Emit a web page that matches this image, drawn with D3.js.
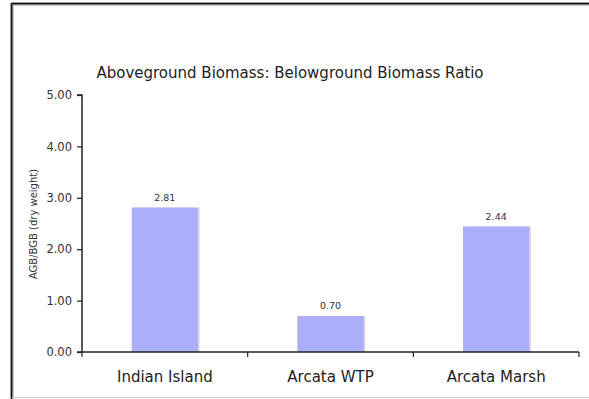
<!DOCTYPE html>
<html>
<head>
<meta charset="utf-8">
<script src="https://cdn.jsdelivr.net/npm/d3@7"></script>
<style>
  html, body { margin: 0; padding: 0; background: #fff; }
  svg { display: block; }
  text { font-family: "DejaVu Sans", Verdana, sans-serif; }
</style>
</head>
<body>
<svg id="chart" width="589" height="399"></svg>
<script>
// Biomass ratio per site
const sites = ["Indian Island", "Arcata WTP", "Arcata Marsh"];
const ratios = [2.81, 0.70, 2.44];
const yTicks = [0, 1, 2, 3, 4, 5];

const svg = d3.select("#chart");
const W = 589, H = 399;
const plot = { left: 82, right: 579, top: 95, bottom: 352 };

// Frame around the chart area
svg.append("line").attr("x1", 12).attr("x2", W).attr("y1", 4).attr("y2", 4)
  .attr("stroke", "#999").attr("stroke-width", 3);
svg.append("line").attr("x1", 12).attr("x2", 12).attr("y1", 4).attr("y2", H)
  .attr("stroke", "#999").attr("stroke-width", 3);
svg.append("line").attr("x1", 11).attr("x2", W).attr("y1", 3.5).attr("y2", 3.5)
  .attr("stroke", "#111").attr("stroke-width", 1.5);
svg.append("line").attr("x1", 11.5).attr("x2", 11.5).attr("y1", 3).attr("y2", H)
  .attr("stroke", "#111").attr("stroke-width", 1.5);
svg.append("line").attr("x1", 12).attr("x2", W).attr("y1", 397.5).attr("y2", 397.5)
  .attr("stroke", "#ccc").attr("stroke-width", 1);

const x = d3.scaleBand().domain(sites).range([plot.left, plot.right])
  .paddingInner(0.6).paddingOuter(0.3);
const y = d3.scaleLinear().domain([0, 5]).range([plot.bottom, plot.top]);

// Title
svg.append("text")
  .attr("x", 290).attr("y", 78)
  .attr("text-anchor", "middle")
  .attr("font-size", 15)
  .attr("fill", "#222")
  .text("Aboveground Biomass: Belowground Biomass Ratio");

// Bars with a faint shadow on the right edge
const bars = svg.append("g");
sites.forEach((s, i) => {
  bars.append("rect")
    .attr("x", x(s) + 1.5).attr("y", y(ratios[i]))
    .attr("width", x.bandwidth()).attr("height", y(0) - y(ratios[i]))
    .attr("fill", "#d4d4dc");
  bars.append("rect")
    .attr("x", x(s)).attr("y", y(ratios[i]))
    .attr("width", x.bandwidth()).attr("height", y(0) - y(ratios[i]))
    .attr("fill", "#abaef8");
  bars.append("text")
    .attr("x", x(s) + x.bandwidth() / 2).attr("y", y(ratios[i]) - 7)
    .attr("text-anchor", "middle")
    .attr("font-size", 9.5)
    .attr("fill", "#333")
    .text(ratios[i].toFixed(2));
});

// Y axis
const yAxis = svg.append("g")
  .attr("transform", `translate(${plot.left},0)`)
  .call(d3.axisLeft(y).tickValues(yTicks).tickFormat(d3.format(".2f")).tickSize(5).tickPadding(5));
yAxis.select(".domain").attr("stroke", "#222").attr("stroke-width", 1.5).attr("d", `M-5,${plot.top}H0V${plot.bottom}`);
yAxis.selectAll(".tick line").attr("stroke", "#222").attr("stroke-width", 1.2);
yAxis.selectAll(".tick text").attr("font-size", 11.5).attr("fill", "#333")
  .attr("font-family", "DejaVu Sans, Verdana, sans-serif");

// X axis with boundary ticks between categories
const xAxis = svg.append("g").attr("transform", `translate(0,${plot.bottom})`);
xAxis.append("line")
  .attr("x1", plot.left - 5).attr("x2", plot.right).attr("y1", 0).attr("y2", 0)
  .attr("stroke", "#222").attr("stroke-width", 1.5);
const step = x.step();
const bounds = sites.map((s, i) => plot.left + step * (i + 1));
bounds.forEach(b => {
  xAxis.append("line").attr("x1", b).attr("x2", b).attr("y1", 0).attr("y2", 5)
    .attr("stroke", "#222").attr("stroke-width", 1.2);
});
xAxis.append("line").attr("x1", plot.left).attr("x2", plot.left).attr("y1", 0).attr("y2", 5)
  .attr("stroke", "#222").attr("stroke-width", 1.2);
sites.forEach(s => {
  xAxis.append("text")
    .attr("x", x(s) + x.bandwidth() / 2).attr("y", 30)
    .attr("text-anchor", "middle")
    .attr("font-size", 15)
    .attr("fill", "#222")
    .text(s);
});

// Y axis title
svg.append("text")
  .attr("transform", `translate(37,224) rotate(-90)`)
  .attr("text-anchor", "middle")
  .attr("font-size", 10)
  .attr("fill", "#333")
  .text("AGB/BGB (dry weight)");
</script>
</body>
</html>
